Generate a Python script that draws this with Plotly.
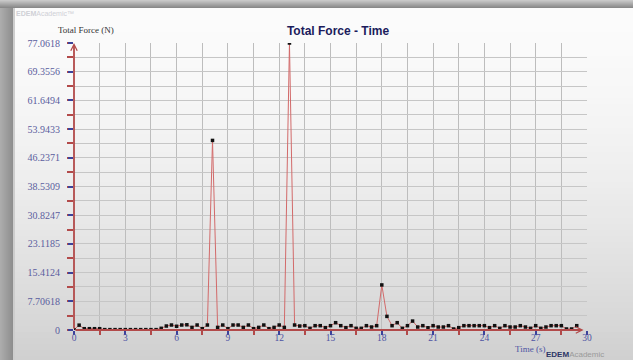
import plotly.graph_objects as go

# Sample times (s) and total force (N)
time_s = [
    0.0, 0.3, 0.6, 0.9, 1.2, 1.5, 1.8, 2.1, 2.4, 2.7, 3.0, 3.3, 3.6, 3.9, 4.2, 4.5, 4.8,
    5.1, 5.4, 5.7, 6.0, 6.3, 6.6, 6.9, 7.2, 7.5, 7.8, 8.1, 8.4, 8.7, 9.0, 9.3, 9.6, 9.9,
    10.2, 10.5, 10.8, 11.1, 11.4, 11.7, 12.0, 12.3, 12.6, 12.9, 13.2, 13.5, 13.8, 14.1,
    14.4, 14.7, 15.0, 15.3, 15.6, 15.9, 16.2, 16.5, 16.8, 17.1, 17.4, 17.7, 18.0, 18.3,
    18.6, 18.9, 19.2, 19.5, 19.8, 20.1, 20.4, 20.7, 21.0, 21.3, 21.6, 21.9, 22.2, 22.5,
    22.8, 23.1, 23.4, 23.7, 24.0, 24.3, 24.6, 24.9, 25.2, 25.5, 25.8, 26.1, 26.4, 26.7,
    27.0, 27.3, 27.6, 27.9, 28.2, 28.5, 28.8, 29.1, 29.4,
]
total_force = [
    0.10, 1.30, 0.35, 0.35, 0.35, 0.35, 0.10, 0.10, 0.10, 0.10, 0.10, 0.10, 0.10, 0.10,
    0.10, 0.10, 0.10,
    0.45, 1.07, 1.34, 1.00, 1.34, 1.40, 0.70, 1.34, 0.36, 1.34, 50.90, 0.70, 1.34, 0.36,
    1.34, 1.34, 0.70, 1.34, 0.36, 0.70, 1.34, 0.36, 0.70, 1.34, 0.70, 77.0618, 1.34,
    1.07, 1.16, 0.45, 1.16, 1.16, 0.63, 1.16, 1.96, 1.16, 0.63, 1.16, 0.45, 0.45, 1.16,
    0.80, 1.16, 12.10, 3.66, 1.16, 1.96, 0.45, 1.16, 2.40, 0.80, 1.16, 0.60, 1.16, 0.80,
    0.80, 1.16, 0.27, 0.63, 1.16, 1.16, 1.16, 1.16, 1.16, 0.63, 1.16, 0.45, 1.16, 0.80,
    0.80, 1.16, 0.80, 0.45, 1.16, 0.45, 0.80, 1.16, 1.16, 1.16, 0.27, 0.27, 1.16,
]

# Axis ticks
x_tickvals = [0, 3, 6, 9, 12, 15, 18, 21, 24, 27, 30]
x_ticktext = ["0", "3", "6", "9", "12", "15", "18", "21", "24", "27", "30"]
y_max = 77.0618
y_tickvals = [0, 7.70618, 15.41236, 23.11854, 30.82472, 38.5309, 46.23708,
              53.94326, 61.64944, 69.35562, 77.0618]
y_ticktext = ["0", "7.70618", "15.4124", "23.1185", "30.8247", "38.5309", "46.2371",
              "53.9433", "61.6494", "69.3556", "77.0618"]
x_grid = [1.5, 3, 4.5, 6, 7.5, 9, 10.5, 12, 13.5, 15, 16.5, 18, 19.5, 21, 22.5, 24,
          25.5, 27, 28.5]
y_grid = [v * y_max / 20 for v in range(1, 20)]

W, H = 633, 360
ML, MR, MT, MB = 74, 46, 43, 30
PW, PH = W - ML - MR, H - MT - MB

AXIS_RED = "#b24a4a"
TICK_BLUE = "#3c429a"
LABEL_BLUE = "#4f54a3"
SERIF = "Liberation Serif"


def px_x(px):
    return (px - ML) / PW


def px_y(py):
    return (H - MB - py) / PH


def band(x0, y0, x1, y1, color):
    return dict(type="rect", xref="paper", yref="paper", layer="below",
                x0=px_x(x0), x1=px_x(x1), y0=px_y(y1), y1=px_y(y0),
                line=dict(width=0), fillcolor=color)


shapes = []
# panel background: soft vertical gradient
step = 6
for y0 in range(8, H, step):
    f = (y0 - 8) / (H - 8)
    c = int(round(251 - 44 * f ** 1.6))
    shapes.append(band(13, y0, W, y0 + step, f"rgb({c},{c},{c})"))
# frame strips on the top and left
for i in range(8):
    c = 200 - i * 9
    shapes.append(band(0, i, W, i + 1, f"rgb({c},{c},{c})"))
for i in range(13):
    c = 172 - int(i * 2.5)
    shapes.append(band(i, 8, i + 1, H, f"rgb({c},{c},{c})"))
shapes.append(band(13, 8, 15, H, "rgb(205,205,205)"))

fig = go.Figure()

# invisible trace carrying the grid axes
fig.add_trace(go.Scatter(x=time_s, y=total_force, xaxis="x2", yaxis="y2",
                         mode="lines", line=dict(width=0), opacity=0,
                         hoverinfo="skip", showlegend=False))

fig.add_trace(go.Scatter(
    x=time_s, y=total_force, mode="lines+markers",
    line=dict(color="#d26a6a", width=1),
    marker=dict(symbol="square", size=3.5, color="#111111"),
    showlegend=False,
))

axis_common = dict(showline=False, zeroline=False, fixedrange=True)

fig.update_layout(
    width=W, height=H,
    margin=dict(l=ML, r=MR, t=MT, b=MB),
    paper_bgcolor="#dcdcdc",
    plot_bgcolor="rgba(0,0,0,0)",
    shapes=shapes,
    title=dict(text="<b>Total Force - Time</b>", x=338 / W, xref="container",
               xanchor="center", y=1 - 31 / H, yanchor="middle",
               font=dict(family="Liberation Sans", size=12, color="#1c1c5c")),
    xaxis=dict(range=[0, 30], tickvals=x_tickvals, ticktext=x_ticktext,
               ticks="outside", ticklen=4, tickwidth=1.5, tickcolor=TICK_BLUE,
               ticklabelstandoff=-5,
               tickfont=dict(family=SERIF, size=9.5, color=LABEL_BLUE),
               showgrid=False, **axis_common),
    yaxis=dict(range=[0, y_max], tickvals=y_tickvals, ticktext=y_ticktext,
               ticks="outside", ticklen=5, tickwidth=1.5, tickcolor=TICK_BLUE,
               ticklabelstandoff=6,
               tickfont=dict(family=SERIF, size=10, color="#5a5d9e"),
               showgrid=False, **axis_common),
    xaxis2=dict(range=[0, 30], overlaying="x", tickvals=x_grid, showticklabels=False,
                ticks="", showgrid=True, gridcolor="#bdbdbd", gridwidth=1,
                **axis_common),
    yaxis2=dict(range=[0, y_max], overlaying="y", tickvals=y_grid, showticklabels=False,
                ticks="", showgrid=True, gridcolor="#c6c6c6", gridwidth=1,
                **axis_common),
)

# red minor ticks between the labelled ticks
minor_x = dict(ticks="outside", ticklen=4, tickwidth=1.5, tickcolor=AXIS_RED,
               dtick=1.5, tick0=0, showgrid=False)
minor_y = dict(ticks="outside", ticklen=6, tickwidth=1.5, tickcolor=AXIS_RED,
               dtick=y_max / 20, tick0=0, showgrid=False)
fig.update_layout(xaxis_minor=minor_x, yaxis_minor=minor_y)

annotations = [
    # axis arrows
    dict(x=0, y=y_max, ax=0, ay=0, xref="x", yref="y", axref="x", ayref="y",
         text="", showarrow=True, arrowhead=5, arrowsize=0.7, arrowwidth=1.8,
         arrowcolor=AXIS_RED, standoff=0, startstandoff=0),
    dict(x=29.8, y=0, ax=0, ay=0, xref="x", yref="y", axref="x", ayref="y",
         text="", showarrow=True, arrowhead=5, arrowsize=0.7, arrowwidth=1.8,
         arrowcolor=AXIS_RED, standoff=0, startstandoff=0),
    # axis titles
    dict(text="Total Force (N)", xref="paper", yref="paper", x=px_x(86), y=px_y(30),
         showarrow=False, xanchor="center", yanchor="middle",
         font=dict(family=SERIF, size=9, color="#333333")),
    dict(text="Time (s)", xref="paper", yref="paper", x=px_x(530), y=px_y(349),
         showarrow=False, xanchor="center", yanchor="middle",
         font=dict(family=SERIF, size=9, color=LABEL_BLUE)),
    # branding
    dict(text="<b>EDEM</b>Academic™", xref="paper", yref="paper",
         x=px_x(14), y=px_y(14), showarrow=False, xanchor="left", yanchor="middle",
         font=dict(family="Liberation Sans", size=7, color="#cfd0d6")),
    dict(text="<b>EDEM</b><span style='color:#9a9a9a'>Academic</span>",
         xref="paper", yref="paper", x=px_x(544), y=px_y(354), showarrow=False,
         xanchor="left", yanchor="middle",
         font=dict(family="Liberation Sans", size=8, color="#2b3566")),
]
fig.update_layout(annotations=annotations)

fig.write_html("out.html")
